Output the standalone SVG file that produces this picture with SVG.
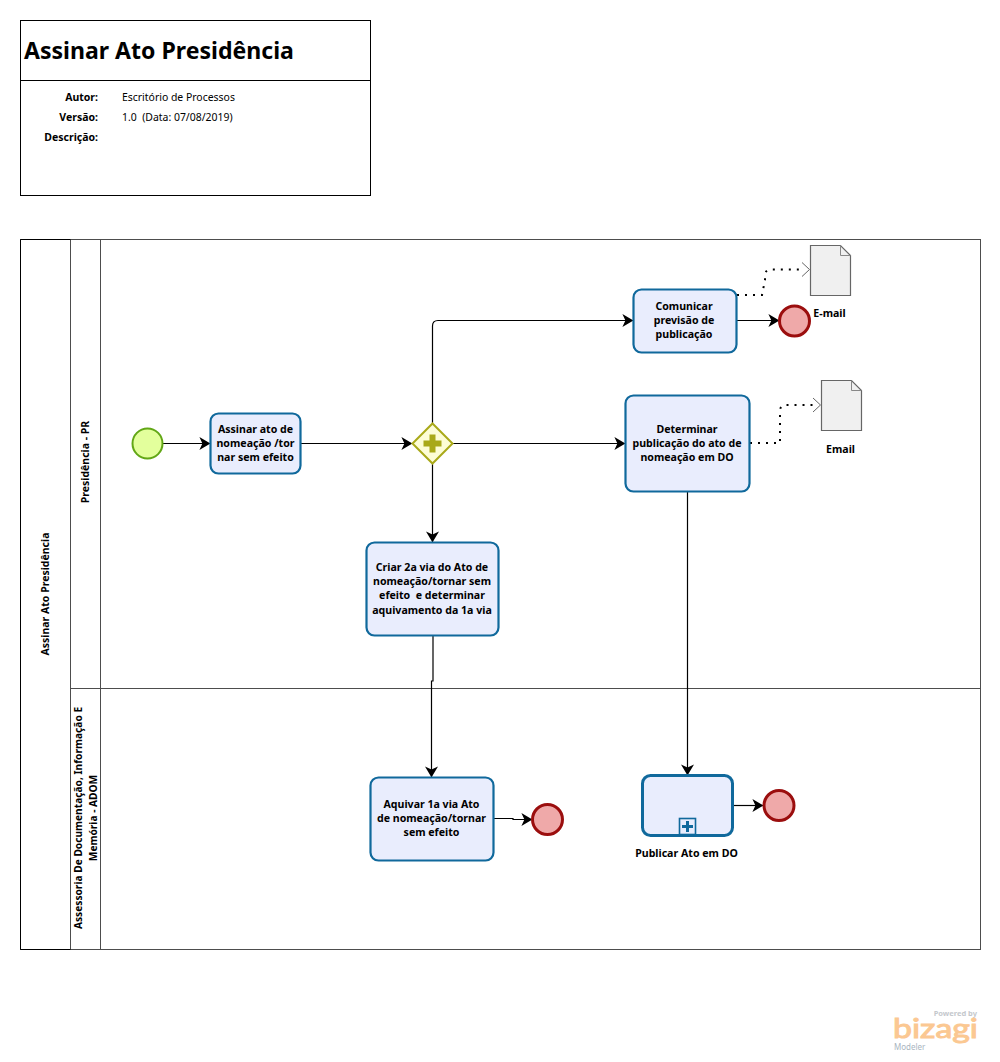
<svg xmlns="http://www.w3.org/2000/svg" width="1000" height="1062" viewBox="0 0 1000 1062">
<style>
text{font-family:"Noto Sans","DejaVu Sans",sans-serif;fill:#000}
.l{font-size:10.600px;font-weight:700;text-anchor:middle}
.r{font-size:10.500px;font-weight:700;text-anchor:middle}
.s{font-size:10.200px;font-weight:700;text-anchor:middle}
.m{font-size:10.500px;font-weight:700;text-anchor:end}
.v{font-size:10.450px}
.box{fill:none;stroke:#000;stroke-width:1}
.pool{fill:#fff;stroke:#4d4d4d;stroke-width:1}
.task{fill:#e9edfd;stroke:#10699c;stroke-width:2.2}
.end{fill:#efa9a9;stroke:#9b0e0e;stroke-width:3}
.doc{fill:#f0f0f0;stroke:#666;stroke-width:1.2}
.flow{fill:none;stroke:#000;stroke-width:1.2;marker-end:url(#a)}
.assoc{fill:none;stroke:#000;stroke-width:2;stroke-dasharray:2 6}
</style>
<defs>
<marker id="a" viewBox="0 0 11 13" refX="10.600" refY="6.500" markerWidth="11" markerHeight="13" markerUnits="userSpaceOnUse" orient="auto"><path d="M0 0L11 6.500L0 13L3 6.500Z" fill="#000"/></marker>
</defs>
<g id="header">
<rect class="box" x="20.500" y="20.500" width="350" height="175"/>
<path class="box" d="M20.500 80.500H370.500"/>
<text x="24" y="59" style="font-size:23.070px;font-weight:700">Assinar Ato Presidência</text>
<text class="m" x="98" y="101">Autor:</text>
<text class="m" x="98" y="121">Versão:</text>
<text class="m" x="98" y="141">Descrição:</text>
<text class="v" x="122" y="101">Escritório de Processos</text>
<text class="v" x="122" y="121" xml:space="preserve">1.0  (Data: 07/08/2019)</text>
</g>
<g id="pool">
<rect class="pool" x="20.500" y="239.500" width="960" height="710"/>
<path d="M70.500 239.500V949.500M100.500 239.500V949.500M70.500 688.500H980.500" fill="none" stroke="#4d4d4d"/>
<path d="M20.500 239.500H70.500M20.500 239.500V949.500H70.500" fill="none" stroke="#000"/>
<text class="r" transform="translate(48.500 594) rotate(-90)">Assinar Ato Presidência</text>
<text class="r" transform="translate(89 462) rotate(-90)">Presidência - PR</text>
<text class="s" transform="translate(82 818) rotate(-90)">Assessoria De Documentação, Informação E</text>
<text class="s" transform="translate(97 818) rotate(-90)">Memória - ADOM</text>
</g>
<g id="connectors">
<path class="flow" d="M163 443.500H210"/>
<path class="flow" d="M301 443.500H412"/>
<path class="flow" d="M432.500 423V326Q432.500 320.500 438 320.500H633"/>
<path class="flow" d="M453 443.500H625"/>
<path class="flow" d="M432.500 464V542"/>
<path class="flow" d="M737 320.500H779"/>
<path class="flow" d="M433 636V681H431.500V777"/>
<path class="flow" d="M687.500 492V775"/>
<path class="flow" d="M494 818.500H513V819.500H532"/>
<path class="flow" d="M733 805.500H763"/>
<path class="assoc" d="M737 295H762L765 280V276Q765 269.500 771 269.500H803"/>
<path d="M802 262.500L809.500 269.500L802 276.500" fill="none" stroke="#666"/>
<path class="assoc" d="M750 443H780V411Q780 405 786 405H814"/>
<path d="M813 398L820.500 405L813 412" fill="none" stroke="#666"/>
</g>
<g id="start"><circle cx="147.500" cy="443.500" r="15" fill="#e3ff9c" stroke="#62a716" stroke-width="2"/></g>
<g id="t1"><rect class="task" x="210.500" y="413.500" width="90" height="60" rx="8"/>
<text class="l" x="255.500" y="433">Assinar ato de</text><text class="l" x="255.500" y="447">nomeação /tor</text><text class="l" x="255.500" y="461">nar sem efeito</text></g>
<g id="gateway"><path d="M432.500 423.500L452.500 443.500L432.500 463.500L412.500 443.500Z" fill="#fdfdd6" stroke="#a9a919" stroke-width="2"/>
<path d="M429.500 434.500H435.500V440.500H441.500V446.500H435.500V452.500H429.500V446.500H423.500V440.500H429.500Z" fill="#a9a919"/></g>
<g id="t2"><rect class="task" x="633.500" y="289.500" width="103" height="63" rx="8"/>
<text class="l" x="684" y="310">Comunicar</text><text class="l" x="684" y="324">previsão de</text><text class="l" x="684" y="338">publicação</text></g>
<g id="end1"><circle class="end" cx="794.500" cy="321" r="15"/></g>
<g id="doc1"><path class="doc" d="M810.500 245.500H840.500L850.500 255.500V295.500H810.500Z"/><path d="M840.500 245.500V255.500H850.500" fill="none" stroke="#888"/>
<text class="l" x="829.500" y="317">E-mail</text></g>
<g id="t3"><rect class="task" x="625.500" y="395.500" width="124" height="96" rx="8"/>
<text class="l" x="687" y="433">Determinar</text><text class="l" x="687" y="447">publicação do ato de</text><text class="l" x="687" y="461">nomeação em DO</text></g>
<g id="doc2"><path class="doc" d="M821.500 380.500H851.500L861.500 390.500V430.500H821.500Z"/><path d="M851.500 380.500V390.500H861.500" fill="none" stroke="#888"/>
<text class="l" x="840.500" y="453">Email</text></g>
<g id="t4"><rect class="task" x="366.500" y="542.500" width="132" height="93" rx="8"/>
<text class="l" x="432" y="571">Criar 2a via do Ato de</text><text class="l" x="432" y="585">nomeação/tornar sem</text><text class="l" x="432" y="599" xml:space="preserve">efeito  e determinar</text><text class="l" x="432" y="614">aquivamento da 1a via</text></g>
<g id="t5"><rect class="task" x="370.500" y="777.500" width="123" height="83" rx="8"/>
<text class="l" x="431.500" y="808">Aquivar 1a via Ato</text><text class="l" x="431.500" y="822">de nomeação/tornar</text><text class="l" x="431.500" y="836">sem efeito</text></g>
<g id="end2"><circle class="end" cx="547.500" cy="819.500" r="15"/></g>
<g id="sub"><rect x="642.500" y="775.500" width="90" height="60" rx="8" fill="#e9edfd" stroke="#10699c" stroke-width="3"/>
<rect x="679.500" y="818.500" width="16" height="16" fill="#e9edfd" stroke="#10699c" stroke-width="1.600"/>
<path d="M686 821H689V825H693V828H689V832H686V828H682V825H686Z" fill="#10699c"/>
<text class="l" x="686.500" y="857">Publicar Ato em DO</text></g>
<g id="end3"><circle class="end" cx="779" cy="805.500" r="15"/></g>
<g id="logo">
<text x="977" y="1016" style="font-size:7.500px;font-weight:700;text-anchor:end;fill:#c4c8cc">Powered by</text>
<text x="893" y="1038" style="font-size:27px;font-family:Lato,sans-serif;fill:#fbc892;stroke:#fbc892;stroke-width:1" textLength="85" lengthAdjust="spacingAndGlyphs">bizagi</text>
<text x="894" y="1050" style="font-size:8px;fill:#a9b5bf">Modeler</text>
</g>
</svg>
